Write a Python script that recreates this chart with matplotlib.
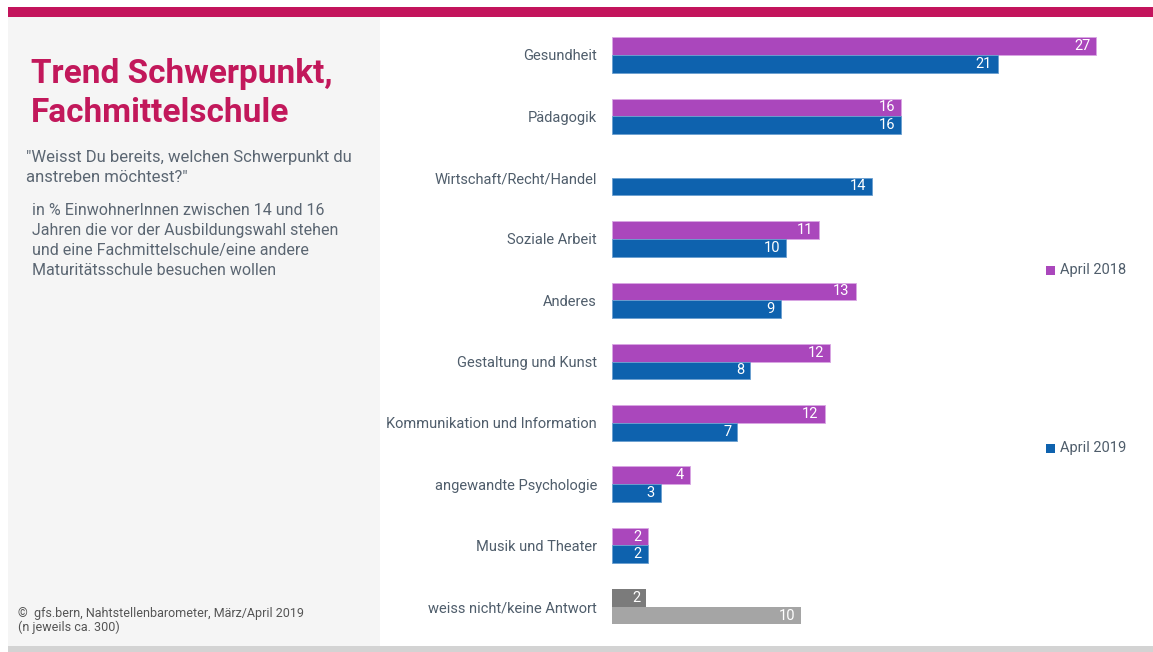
import matplotlib.pyplot as plt
import numpy as np
from matplotlib.patches import Rectangle

plt.rcParams['font.family'] = ['Roboto', 'DejaVu Sans']

categories = ['Gesundheit', 'Pädagogik', 'Wirtschaft/Recht/Handel', 'Soziale Arbeit', 'Anderes',
              'Gestaltung und Kunst', 'Kommunikation und Information', 'angewandte Psychologie',
              'Musik und Theater', 'weiss nicht/keine Antwort']
april_2018 = [26.6, 15.9, 0, 11.4, 13.4, 12.0, 11.7, 4.3, 2.0, 1.9]
april_2019 = [21.2, 15.9, 14.3, 9.6, 9.3, 7.6, 6.9, 2.7, 2.0, 10.4]
series_names = ['April 2018', 'April 2019']

W, H = 1153, 652
fig = plt.figure(figsize=(W / 100, H / 100), dpi=100)

# background decoration (top bar, left panel, bottom strip)
bg = fig.add_axes([0, 0, 1, 1])
bg.set_xlim(0, W)
bg.set_ylim(H, 0)
bg.axis('off')
bg.add_patch(Rectangle((8, 7), W - 8, 10, color='#c3145c', lw=0))
bg.add_patch(Rectangle((8, 17), 372, 629, color='#f5f5f5', lw=0))
bg.add_patch(Rectangle((8, 646), W - 8, 6, color='#d3d3d3', lw=0))

bg.text(31, 83, 'Trend Schwerpunkt,', fontsize=24, fontweight='bold', color='#c2185b')
bg.text(31, 122, 'Fachmittelschule', fontsize=24, fontweight='bold', color='#c2185b')
bg.text(26, 150, '"Weisst Du bereits, welchen Schwerpunkt du\nanstreben möchtest?"',
        fontsize=12, color='#5b6672', linespacing=1.45, va='top')
bg.text(32, 203, 'in % EinwohnerInnen zwischen 14 und 16\nJahren die vor der Ausbildungswahl stehen\n'
        'und eine Fachmittelschule/eine andere\nMaturitätsschule besuchen wollen',
        fontsize=11.5, color='#5b6672', linespacing=1.42, va='top')
bg.text(18, 607, '©  gfs.bern, Nahtstellenbarometer, März/April 2019\n(n jeweils ca. 300)',
        fontsize=9, color='#555555', linespacing=1.1, va='top')

# bar chart
px_unit = 18.22
x0 = 611.5
top, step = 55 - 61.3 / 2, 61.3
n = len(categories)
ax = fig.add_axes([x0 / W, 1 - (top + n * step) / H, 27 * px_unit / W, n * step / H])
ax.set_xlim(0, 27)
ax.set_ylim(n - 0.5, -0.5)

y = np.arange(n)
h = 17.7 / step
c18 = ['#aa47bc'] * (n - 1) + ['#7b7b7b']
c19 = ['#0e62ae'] * (n - 1) + ['#a5a5a5']
b1 = ax.barh(y - h / 2, april_2018, height=h, color=c18, edgecolor='#d9a6e3', linewidth=0.6)
b2 = ax.barh(y + h / 2, april_2019, height=h, color=c19, edgecolor='#6a9fd0', linewidth=0.6)
b1[-1].set_edgecolor('none')
b2[-1].set_edgecolor('none')

for bars, vals in [(b1, april_2018), (b2, april_2019)]:
    for b, v in zip(bars, vals):
        if v == 0:
            b.set_visible(False)
            continue
        ax.annotate(f'{round(v)}', (v, b.get_y() + b.get_height() / 2), xytext=(-6, 0),
                    textcoords='offset pixels', ha='right', va='center',
                    fontsize=10.5, color='white')

ax.set_yticks(y)
ax.set_yticklabels(categories, fontsize=10.5, color='#4f5d6b')
ax.tick_params(axis='y', length=0, pad=10.5)
ax.set_xticks([])
for s in ax.spines.values():
    s.set_visible(False)
ax.patch.set_alpha(0)

# legend markers
for name, col, ly in [(series_names[0], '#aa47bc', 270), (series_names[1], '#0e62ae', 448)]:
    bg.add_patch(Rectangle((1046, ly - 4.5), 9, 9, color=col, lw=0))
    bg.text(1060, ly, name, fontsize=10.5, color='#4f5d6b', va='center')

fig.savefig('out.png', dpi=100)
